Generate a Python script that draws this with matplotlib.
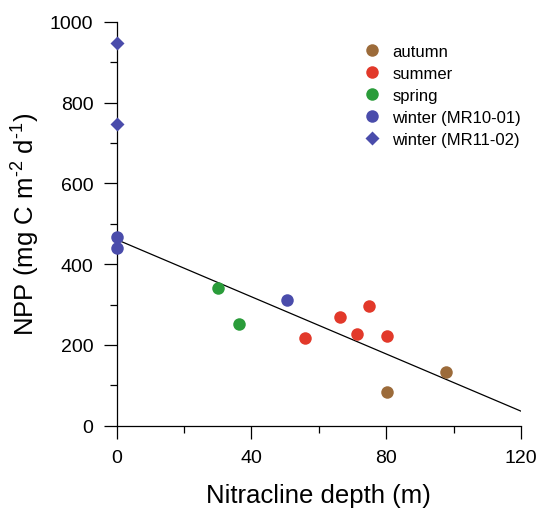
import numpy as np
import matplotlib
matplotlib.use("Agg")
from matplotlib import pyplot as plt

plt.rcParams['font.family'] = ['Liberation Sans', 'DejaVu Sans']
plt.rcParams['mathtext.fontset'] = 'custom'
plt.rcParams['mathtext.rm'] = 'Liberation Sans'
plt.rcParams['mathtext.it'] = 'Liberation Sans:italic'

# nitracline depth (m) and NPP (mg C m-2 d-1) by season
autumn_x = [97.8, 80.2]
autumn_y = [134, 83]
summer_x = [56.0, 66.2, 74.9, 71.3, 80.2]
summer_y = [217, 269, 296, 227, 222]
spring_x = [30.0, 36.2]
spring_y = [341, 252]
winter1_x = [0, 0, 50.6]
winter1_y = [467, 441, 311]
winter2_x = [0, 0]
winter2_y = [949, 747]

# regression line end points
fit_x = [0, 120]
fit_y = [461, 36]

colors = {
    'autumn': '#9c6b3a',
    'summer': '#e2392a',
    'spring': '#2a9c3a',
    'winter': '#4a4cab',
}

fig = plt.figure(figsize=(5.42, 5.10), dpi=100)
ax = fig.add_axes([0.2153, 0.1633, 0.7460, 0.7917])

ax.plot(fit_x, fit_y, color='black', lw=0.9, zorder=2)

ax.plot(autumn_x, autumn_y, 'o', ms=9, color=colors['autumn'], mec='none',
        label='autumn', clip_on=False, zorder=3)
ax.plot(summer_x, summer_y, 'o', ms=9, color=colors['summer'], mec='none',
        label='summer', clip_on=False, zorder=3)
ax.plot(spring_x, spring_y, 'o', ms=9, color=colors['spring'], mec='none',
        label='spring', clip_on=False, zorder=3)
ax.plot(winter1_x, winter1_y, 'o', ms=9, color=colors['winter'], mec='none',
        label='winter (MR10-01)', clip_on=False, zorder=3)
ax.plot(winter2_x, winter2_y, 'D', ms=7, color=colors['winter'], mec='none',
        label='winter (MR11-02)', clip_on=False, zorder=3)

ax.set_xlim(0, 120)
ax.set_ylim(0, 1000)
ax.set_xticks([0, 40, 80, 120])
ax.set_xticks([20, 60, 100], minor=True)
ax.set_yticks([0, 200, 400, 600, 800, 1000])
ax.set_yticks([100, 300, 500, 700, 900], minor=True)

for s in ['top', 'right']:
    ax.spines[s].set_visible(False)
for s in ['left', 'bottom']:
    ax.spines[s].set_linewidth(0.9)

ax.tick_params(which='major', direction='out', length=9.7, width=0.9,
               labelsize=14, pad=7)
ax.tick_params(which='minor', direction='out', length=4.8, width=0.9)

ax.set_xlabel('Nitracline depth (m)', fontsize=18.5, labelpad=12)
ax.set_ylabel(r'NPP (mg C m$^{\text{-}2}$ d$^{\text{-}1}$)', fontsize=18.5,
              labelpad=6)

ax.legend(loc='upper left', bbox_to_anchor=(0.595, 0.963), frameon=False,
          fontsize=12, handletextpad=0.7, labelspacing=0.43,
          handlelength=1.0, borderaxespad=0)

fig.savefig('out.png', dpi=100)
